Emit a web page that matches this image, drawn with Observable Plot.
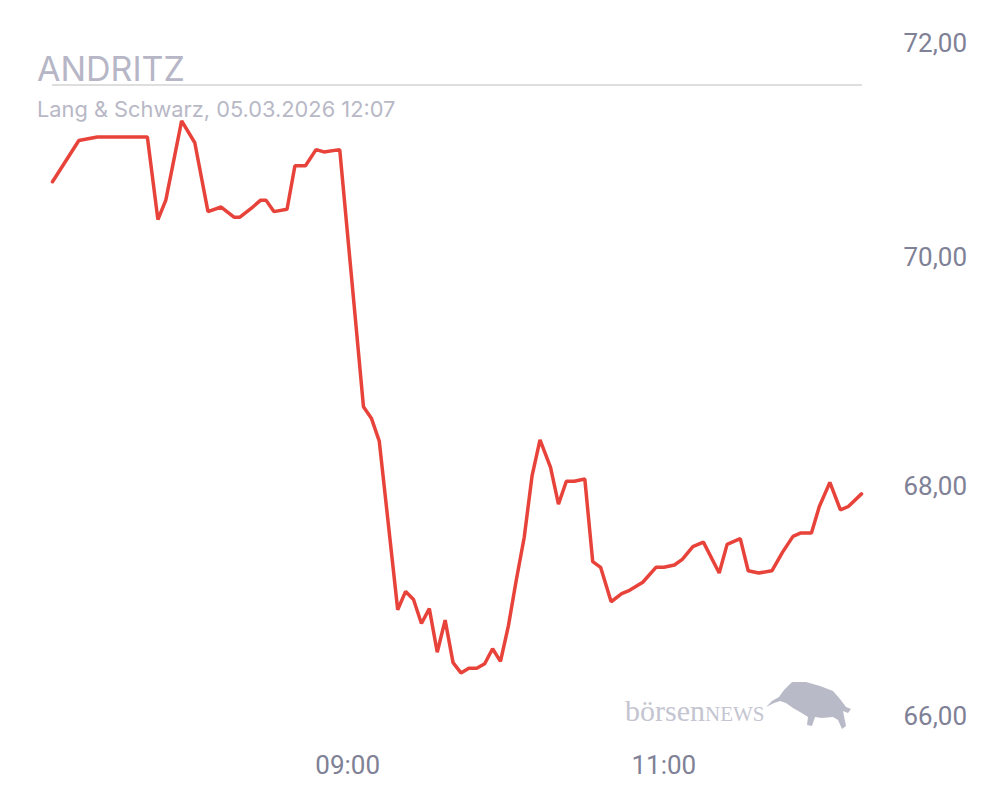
<!DOCTYPE html>
<html>
<head>
<meta charset="utf-8">
<script src="https://cdn.jsdelivr.net/npm/d3@7"></script>
<script src="https://cdn.jsdelivr.net/npm/@observablehq/plot@0.6"></script>
<style>
  html, body { margin: 0; padding: 0; background: #ffffff; }
  #wrap { position: relative; width: 1008px; height: 810px; overflow: hidden; }
  #chart { position: absolute; left: 0; top: 0; }
  .title { position: absolute; left: 37px; top: 52px; font-family: Inter, "Noto Sans", sans-serif; font-size: 34px; line-height: 1; color: #b6b6c6; font-weight: 400; white-space: nowrap; }
  .subtitle { position: absolute; left: 37px; top: 99px; font-family: Inter, "Noto Sans", sans-serif; font-size: 21.8px; line-height: 1; color: #b8b8c6; white-space: nowrap; }
  .rule { position: absolute; left: 52px; top: 84px; width: 810px; height: 2px; background: #dedede; }
  #logo { position: absolute; left: 0; top: 0; pointer-events: none; }
</style>
</head>
<body>
<div id="wrap">
  <div id="chart"></div>
  <div class="rule"></div>
  <div class="title">ANDRITZ</div>
  <div class="subtitle">Lang &amp; Schwarz, 05.03.2026 12:07</div>
  <svg id="logo" width="1008" height="810">
    <text x="625" y="721" font-family="'Liberation Serif', 'DejaVu Serif', serif" font-size="30" fill="#c4c5d1">börsen<tspan font-size="21">NEWS</tspan></text>
    <path fill="#b9bac8" d="M766,707 L772,701 L779,697 L784,690 L792,682 L806,682 L820,686 L833,691 L840,699 L846,707 L851,709 L848,713 L843,711 L846,726 L842,729 L838,720 L833,717 L822,718 L815,717 L812,726 L807,725 L808,717 L800,712 L793,708 L786,703 L780,701 L774,703 Z"/>
  </svg>
</div>
<script>
// Intraday quotes (time of day, price in EUR)
const times = [
  "07:08","07:18","07:25","07:32","07:44","07:48","07:51","07:57","08:02","08:07",
  "08:12","08:17","08:19","08:24","08:27","08:29","08:32","08:37","08:40","08:44",
  "08:48","08:51","08:57","09:03","09:06","09:09","09:12","09:19","09:22","09:25",
  "09:28","09:31","09:34","09:37","09:40","09:43","09:46","09:49","09:52","09:55",
  "09:58","10:01","10:04","10:07","10:10","10:13","10:17","10:20","10:23","10:26",
  "10:30","10:33","10:36","10:40","10:44","10:47","10:52","10:57","11:00","11:04",
  "11:07","11:11","11:15","11:21","11:24","11:29","11:32","11:36","11:41","11:45",
  "11:49","11:52","11:56","11:59","12:03","12:07","12:10","12:15"
];
const prices = [
  70.66,71.02,71.05,71.05,71.05,70.33,70.50,71.19,71.00,70.40,
  70.44,70.35,70.35,70.44,70.50,70.50,70.40,70.42,70.80,70.80,
  70.94,70.92,70.94,69.45,68.70,68.60,68.40,66.93,67.09,67.02,
  66.81,66.94,66.56,66.84,66.47,66.38,66.42,66.42,66.46,66.59,
  66.48,66.79,67.19,67.56,68.10,68.41,68.17,67.85,68.05,68.05,
  68.07,67.35,67.30,67.00,67.07,67.10,67.17,67.30,67.30,67.32,
  67.37,67.48,67.52,67.25,67.50,67.55,67.27,67.25,67.27,67.43,
  67.57,67.60,67.60,67.83,68.04,67.80,67.83,67.94
];
const xTickLabels = ["09:00", "11:00"];
const yTickValues = [66, 68, 70, 72];
const xStart = "07:08";
const xEnd = "12:15";

const parseTime = s => new Date(`2026-03-05T${s}:00`);
const data = times.map((t, i) => ({time: parseTime(t), price: prices[i]}));
const fmtPrice = v => v.toFixed(2).replace(".", ",");
const axisColor = "#7f8196";

const chart = Plot.plot({
  width: 1008,
  height: 810,
  marginLeft: 52,
  marginRight: 147,
  marginTop: 27.5,
  marginBottom: 94,
  style: {fontFamily: "Roboto, 'Noto Sans', sans-serif", background: "transparent"},
  x: {type: "time", domain: [parseTime(xStart), parseTime(xEnd)]},
  y: {domain: [66, 72]},
  marks: [
    Plot.axisX(xTickLabels.map(parseTime), {
      tickSize: 0, tickPadding: 39, fontSize: 26, fill: axisColor,
      tickFormat: d3.timeFormat("%H:%M"), label: null
    }),
    Plot.axisY(yTickValues.filter(v => v < 72), {
      anchor: "right", tickSize: 0, tickPadding: 42, fontSize: 26, fill: axisColor,
      tickFormat: fmtPrice, label: null
    }),
    Plot.axisY(yTickValues.filter(v => v >= 72), {
      anchor: "right", tickSize: 0, tickPadding: 42, fontSize: 26, fill: axisColor,
      tickFormat: fmtPrice, label: null, dy: 15.5
    }),
    Plot.line(data, {x: "time", y: "price", stroke: "#e8433a", strokeWidth: 3.5, strokeLinejoin: "miter"})
  ]
});
document.getElementById("chart").appendChild(chart);
</script>
</body>
</html>
